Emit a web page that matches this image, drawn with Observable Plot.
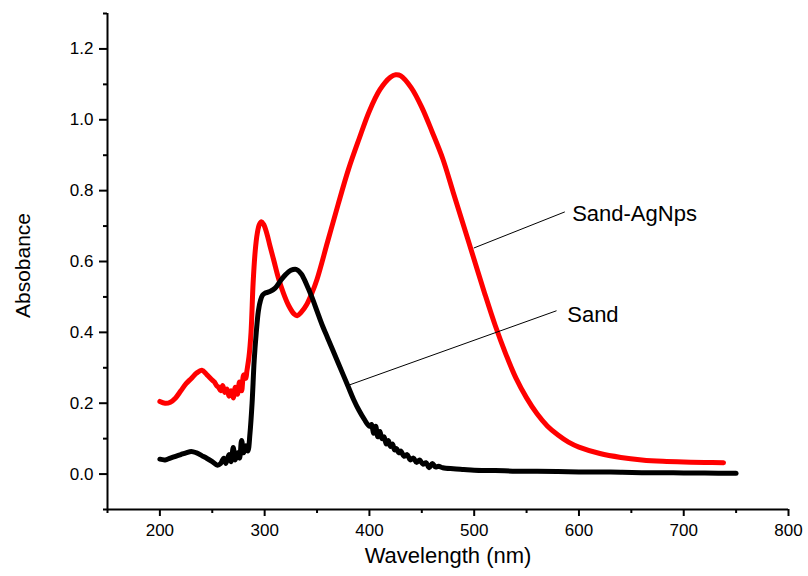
<!DOCTYPE html>
<html>
<head>
<meta charset="utf-8">
<script src="https://cdn.jsdelivr.net/npm/d3@7"></script>
<script src="https://cdn.jsdelivr.net/npm/@observablehq/plot@0.6"></script>
<style>
  html, body { margin: 0; padding: 0; background: #fff; }
  #chart { width: 808px; height: 576px; }
</style>
</head>
<body>
<div id="chart"></div>
<script>
// ---- Data ----
const sandWavelength = [200,205,210,215,220,225,230,235,240,245,250,255,258,261,263,266,268,270,272,274,276,278,280,282,284,286,288,290,292,294,296,298,300,305,310,315,320,325,330,335,340,345,350,355,360,365,370,375,380,385,390,395,400,402,404,406,408,410,412,414,416,418,420,422,424,426,428,430,433,436,439,442,445,448,451,454,457,460,463,466,470,480,490,500,520,540,560,580,600,620,640,660,680,700,720,750];
const sandAbsorbance = [0.042,0.040,0.045,0.050,0.055,0.060,0.064,0.060,0.052,0.044,0.035,0.025,0.030,0.045,0.030,0.055,0.035,0.075,0.040,0.060,0.045,0.095,0.060,0.080,0.065,0.115,0.20,0.32,0.40,0.46,0.49,0.505,0.51,0.515,0.525,0.545,0.563,0.575,0.578,0.565,0.535,0.50,0.46,0.42,0.385,0.35,0.315,0.28,0.245,0.21,0.18,0.155,0.135,0.14,0.115,0.135,0.105,0.12,0.10,0.105,0.085,0.095,0.078,0.085,0.068,0.072,0.060,0.065,0.050,0.055,0.040,0.045,0.033,0.040,0.028,0.032,0.018,0.030,0.020,0.022,0.018,0.015,0.013,0.011,0.010,0.008,0.008,0.007,0.006,0.006,0.005,0.004,0.004,0.003,0.003,0.002];

const agWavelength = [200,205,210,215,220,225,230,235,240,245,250,252,254,256,258,260,262,264,266,268,270,272,274,276,278,280,282,283,285,287,289,291,293,295,297,299,302,305,309,313,318,323,328,331,335,340,345,350,360,370,380,390,400,410,420,425,430,440,450,460,470,480,490,500,510,520,530,540,550,560,570,580,590,600,620,640,660,680,700,720,738];
const agAbsorbance = [0.205,0.200,0.203,0.215,0.235,0.255,0.270,0.285,0.293,0.280,0.265,0.26,0.25,0.245,0.235,0.25,0.23,0.24,0.22,0.235,0.215,0.245,0.225,0.26,0.235,0.28,0.27,0.29,0.33,0.40,0.54,0.63,0.68,0.705,0.712,0.705,0.68,0.645,0.60,0.555,0.51,0.475,0.452,0.447,0.457,0.478,0.51,0.55,0.655,0.76,0.86,0.945,1.025,1.085,1.12,1.127,1.124,1.09,1.035,0.965,0.89,0.795,0.70,0.605,0.51,0.42,0.34,0.27,0.215,0.17,0.135,0.11,0.09,0.076,0.058,0.047,0.040,0.036,0.034,0.033,0.032];

const xTicks = [200,300,400,500,600,700,800];
const xMinorTicks = [150,250,350,450,550,650,750];
const yTicks = [0.0,0.2,0.4,0.6,0.8,1.0,1.2];
const yMinorTicks = [-0.1,0.1,0.3,0.5,0.7,0.9,1.1,1.3];

const seriesNames = ["Sand-AgNps","Sand"];
const seriesColors = ["#ff0000","#000000"];
// annotation leader lines (data units) and label anchors
const leaderLines = [
  {name: "Sand-AgNps", x1: 499.6, y1: 0.638, x2: 586.5, y2: 0.740, tx: 593.5, ty: 0.733},
  {name: "Sand", x1: 381.3, y1: 0.252, x2: 578.6, y2: 0.461, tx: 588.8, ty: 0.450}
];

const xLabel = "Wavelength (nm)";
const yLabel = "Absobance";

// ---- Build tables ----
const sand = sandWavelength.map((w, i) => ({w, a: sandAbsorbance[i]}));
const ag = agWavelength.map((w, i) => ({w, a: agAbsorbance[i]}));

const font = "Arial, 'Liberation Sans', Helvetica, sans-serif";

const chart = Plot.plot({
  width: 808,
  height: 576,
  marginLeft: 107,
  marginRight: 20,
  marginTop: 13,
  marginBottom: 67,
  style: {fontFamily: font, background: "#fff", color: "#000"},
  x: {domain: [150, 800]},
  y: {domain: [-0.1, 1.3]},
  marks: [
    // axis lines
    Plot.ruleY([-0.1], {x1: 150, x2: 800, stroke: "#000", strokeWidth: 2}),
    Plot.ruleX([150], {y1: -0.1, y2: 1.3, stroke: "#000", strokeWidth: 2}),
    // x axis
    Plot.axisX({ticks: xTicks, tickSize: 7, tickPadding: 7, fontSize: 17, strokeWidth: 2, label: null, tickFormat: d3.format("d")}),
    Plot.axisX({ticks: xMinorTicks, tickSize: 4, strokeWidth: 2, label: null, tickFormat: () => ""}),
    // y axis
    Plot.axisY({ticks: yTicks, tickSize: 8, tickPadding: 6, fontSize: 17, strokeWidth: 2, label: null, tickFormat: d3.format(".1f")}),
    Plot.axisY({ticks: yMinorTicks, tickSize: 4, strokeWidth: 2, label: null, tickFormat: () => ""}),
    // axis titles
    Plot.text([xLabel], {frameAnchor: "bottom", dy: 53, fontSize: 22, fill: "#000"}),
    Plot.text([yLabel], {frameAnchor: "left", textAnchor: "middle", dx: -84, dy: 4, rotate: -90, fontSize: 21, fill: "#000"}),
    // series
    Plot.line(ag, {x: "w", y: "a", stroke: seriesColors[0], strokeWidth: 5, curve: "catmull-rom", strokeLinejoin: "round", strokeLinecap: "round"}),
    Plot.line(sand, {x: "w", y: "a", stroke: seriesColors[1], strokeWidth: 5, curve: "catmull-rom", strokeLinejoin: "round", strokeLinecap: "round"}),
    // annotations
    Plot.link(leaderLines, {x1: "x1", y1: "y1", x2: "x2", y2: "y2", stroke: "#000", strokeWidth: 1}),
    Plot.text(leaderLines, {x: "tx", y: "ty", text: "name", textAnchor: "start", fontSize: 22, fill: "#000"})
  ]
});

document.getElementById("chart").appendChild(chart);
</script>
</body>
</html>
